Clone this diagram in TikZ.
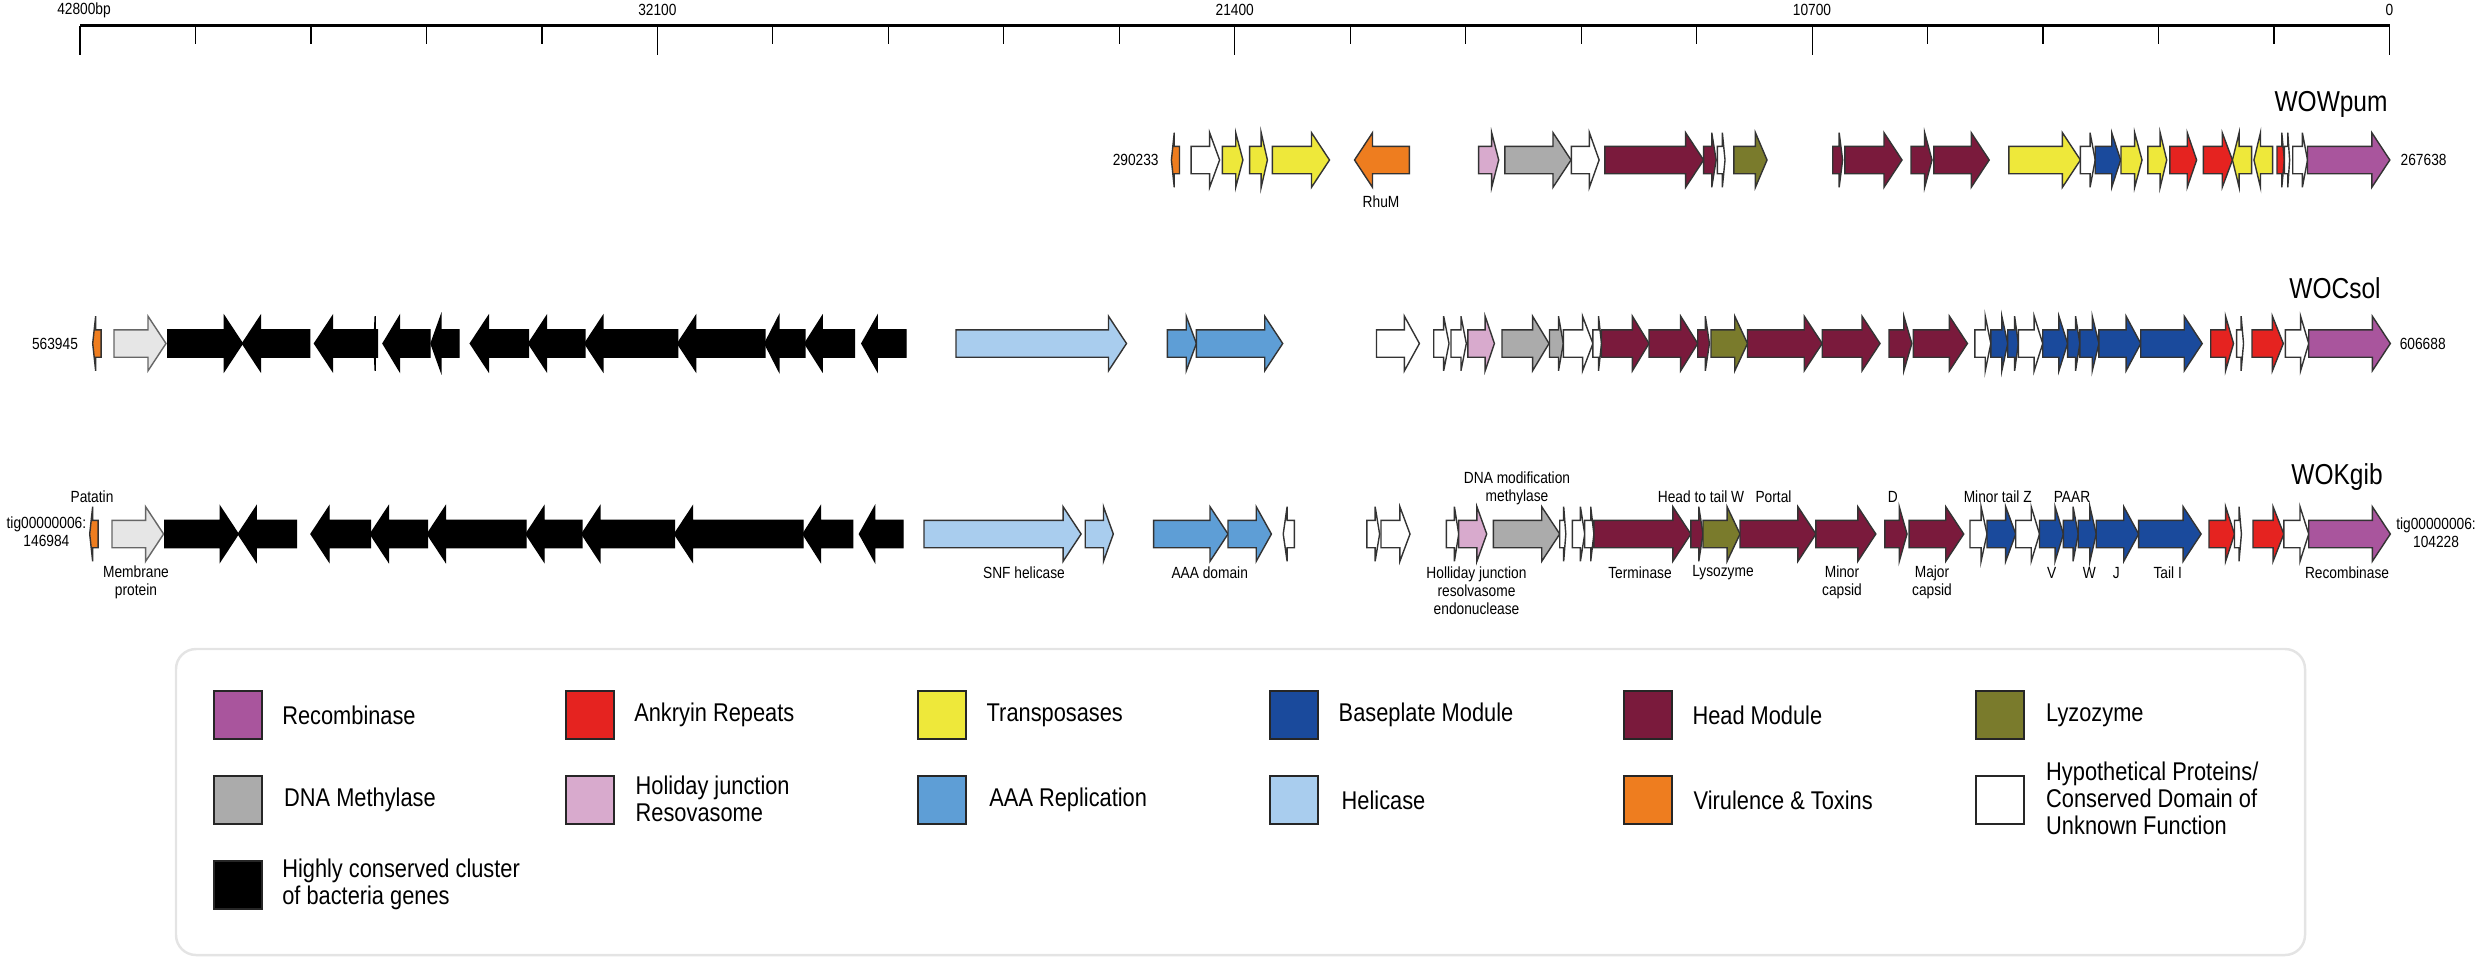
\documentclass[tikz,border=0pt]{standalone}
\usepackage{fontspec}
\setmainfont{Liberation Sans}[FakeStretch=0.85]
\definecolor{crec}{RGB}{169,85,157}
\definecolor{cank}{RGB}{229,35,32}
\definecolor{ctra}{RGB}{238,232,58}
\definecolor{cbas}{RGB}{26,74,156}
\definecolor{chea}{RGB}{122,26,60}
\definecolor{clys}{RGB}{122,123,44}
\definecolor{cmet}{RGB}{171,171,171}
\definecolor{chol}{RGB}{216,170,205}
\definecolor{caaa}{RGB}{94,158,214}
\definecolor{chel}{RGB}{169,205,238}
\definecolor{cvir}{RGB}{238,125,31}
\definecolor{cmem}{RGB}{230,230,230}
\definecolor{cbox}{RGB}{228,228,228}
\newcommand{\fsS}{\fontsize{4.6}{5.1}\selectfont}
\newcommand{\fsL}{\fontsize{7.3}{7.65}\selectfont}
\newcommand{\fsT}{\fontsize{8.2}{9}\selectfont}
\newcommand{\geneR}[4]{%
  \pgfmathsetmacro{\gh}{min(18,0.35*(#3-#2))}%
  \draw[gene,#4] (#2,#1-13.7) -- (#3-\gh,#1-13.7) -- (#3-\gh,#1-27.3) -- (#3,#1)
    -- (#3-\gh,#1+27.3) -- (#3-\gh,#1+13.7) -- (#2,#1+13.7) -- cycle;}
\newcommand{\geneL}[4]{%
  \pgfmathsetmacro{\gh}{min(18,0.35*(#3-#2))}%
  \draw[gene,#4] (#3,#1-13.7) -- (#2+\gh,#1-13.7) -- (#2+\gh,#1-27.3) -- (#2,#1)
    -- (#2+\gh,#1+27.3) -- (#2+\gh,#1+13.7) -- (#3,#1+13.7) -- cycle;}
\begin{document}
\begin{tikzpicture}[x=0.1mm,y=-0.1mm,
  gene/.style={draw=black!80,line width=0.4pt,line join=miter},
  grec/.style={fill=crec}, gank/.style={fill=cank}, gtra/.style={fill=ctra},
  gbas/.style={fill=cbas}, ghea/.style={fill=chea}, glys/.style={fill=clys},
  gmet/.style={fill=cmet}, ghol/.style={fill=chol}, gaaa/.style={fill=caaa},
  ghel/.style={fill=chel}, gvir/.style={fill=cvir}, ghyp/.style={fill=white},
  gblk/.style={fill=black,draw=black}, gmem/.style={fill=cmem,draw=black!60},
  lab/.style={inner sep=0pt,font=\fsS,align=center},
  rowname/.style={inner sep=0pt,font=\fsT},
  legtxt/.style={inner sep=0pt,font=\fsL,align=left,anchor=west},
  swatch/.style={draw=black!85,line width=0.6pt,minimum width=4.8mm,minimum height=4.83mm,inner sep=0pt}]
\useasboundingbox (0,0) rectangle (2481,963);
\def\ya{160}
\def\yb{343.5}
\def\yc{534}
% ruler
\draw[line width=0.7pt] (80,25.7) -- (2389.5,25.7);
\foreach \i in {0,...,20}{%
  \pgfmathsetmacro{\tx}{80+\i*115.475}%
  \pgfmathtruncatemacro{\mm}{mod(\i,5)}%
  \ifnum\mm=0 \draw[line width=0.35pt] (\tx,25.7) -- (\tx,55);
  \else \draw[line width=0.35pt] (\tx,25.7) -- (\tx,43.7); \fi}
\node[lab] (r0) at (84,10) {42800bp};
\node[lab] (r1) at (657.4,10) {32100};
\node[lab] (r2) at (1234.7,10) {21400};
\node[lab] (r3) at (1812,10) {10700};
\node[lab] (r4) at (2389.5,10) {0};
% row names and ends
\node[rowname] (n1) at (2331,104) {WOWpum};
\node[rowname] (n2) at (2335,288) {WOCsol};
\node[rowname] (n3) at (2337,477) {WOKgib};
\node[lab] (e1l) at (1135.7,\ya) {290233};
\node[lab] (e1r) at (2423.6,\ya) {267638};
\node[lab] (e2l) at (55,\yb) {563945};
\node[lab] (e2r) at (2422.7,\yb) {606688};
\node[lab] (e3l) at (46.4,532) {tig00000006:\\146984};
\node[lab] (e3r) at (2436,533) {tig00000006:\\104228};
% row 1 WOWpum
\geneL{\ya}{1171.4}{1179.5}{gvir}
\geneR{\ya}{1191.1}{1219.6}{ghyp}
\geneR{\ya}{1222.3}{1242.9}{gtra}
\geneR{\ya}{1249.6}{1267.4}{gtra}
\geneR{\ya}{1272.3}{1329.5}{gtra}
\geneL{\ya}{1354.5}{1409.4}{gvir}
\geneR{\ya}{1478.6}{1498.7}{ghol}
\geneR{\ya}{1504.9}{1571}{gmet}
\geneR{\ya}{1571.4}{1599.1}{ghyp}
\geneR{\ya}{1604.9}{1703.6}{ghea}
\geneR{\ya}{1703.6}{1716.1}{ghea}
\geneR{\ya}{1717.4}{1725}{ghyp}
\geneR{\ya}{1733.9}{1767}{glys}
\geneR{\ya}{1832.7}{1842.6}{ghea}
\geneR{\ya}{1844.8}{1902}{ghea}
\geneR{\ya}{1911}{1932}{ghea}
\geneR{\ya}{1933.8}{1989.2}{ghea}
\geneR{\ya}{2008.9}{2080.4}{gtra}
\geneR{\ya}{2080.4}{2095.2}{ghyp}
\geneR{\ya}{2095.2}{2120.6}{gbas}
\geneR{\ya}{2121}{2142}{gtra}
\geneR{\ya}{2147.9}{2166.7}{gtra}
\geneR{\ya}{2169.8}{2196.6}{gank}
\geneR{\ya}{2203.3}{2232.4}{gank}
\geneL{\ya}{2232.4}{2251.6}{gtra}
\geneL{\ya}{2253.9}{2272.6}{gtra}
\geneR{\ya}{2277}{2284.3}{gank}
\geneR{\ya}{2284.3}{2289.6}{ghyp}
\geneR{\ya}{2292.7}{2307.5}{ghyp}
\geneR{\ya}{2307.5}{2389.8}{grec}
\node[lab] (rhum) at (1381,201.7) {RhuM};
% row 2 WOCsol
\geneL{\yb}{92.7}{101.2}{gvir}
\geneR{\yb}{114}{166}{gmem}
\geneR{\yb}{167.9}{242.4}{gblk}
\geneL{\yb}{242.4}{309.7}{gblk}
\geneL{\yb}{314.5}{374}{gblk}
\geneL{\yb}{374}{377.5}{gblk}
\geneL{\yb}{383}{430}{gblk}
\geneL{\yb}{431}{459}{gblk}
\geneL{\yb}{470.3}{528.5}{gblk}
\geneL{\yb}{528.5}{584.8}{gblk}
\geneL{\yb}{584.8}{677.6}{gblk}
\geneL{\yb}{677.6}{764.8}{gblk}
\geneL{\yb}{764.8}{804.8}{gblk}
\geneL{\yb}{804.8}{854.5}{gblk}
\geneL{\yb}{861.8}{906}{gblk}
\geneR{\yb}{956}{1126.5}{ghel}
\geneR{\yb}{1167.3}{1196.4}{gaaa}
\geneR{\yb}{1196.4}{1282.7}{gaaa}
\geneR{\yb}{1376.5}{1419.4}{ghyp}
\geneR{\yb}{1433.7}{1449}{ghyp}
\geneR{\yb}{1451}{1466.3}{ghyp}
\geneR{\yb}{1467.9}{1494.4}{ghol}
\geneR{\yb}{1502}{1549}{gmet}
\geneR{\yb}{1549.5}{1563.3}{gmet}
\geneR{\yb}{1563.3}{1592.9}{ghyp}
\geneR{\yb}{1592.9}{1601.5}{ghyp}
\geneR{\yb}{1601.5}{1649}{ghea}
\geneR{\yb}{1649}{1697.7}{ghea}
\geneR{\yb}{1697.7}{1709.4}{ghea}
\geneR{\yb}{1711}{1747.5}{glys}
\geneR{\yb}{1747.5}{1822.2}{ghea}
\geneR{\yb}{1822.2}{1880}{ghea}
\geneR{\yb}{1889}{1911.8}{ghea}
\geneR{\yb}{1913.4}{1967.4}{ghea}
\geneR{\yb}{1974.9}{1990.8}{ghyp}
\geneR{\yb}{1990.8}{2007.7}{gbas}
\geneR{\yb}{2007.7}{2018.3}{gbas}
\geneR{\yb}{2018.3}{2042.7}{ghyp}
\geneR{\yb}{2042.7}{2067.6}{gbas}
\geneR{\yb}{2067.6}{2079.8}{gbas}
\geneR{\yb}{2079.8}{2098.9}{gbas}
\geneR{\yb}{2098.9}{2140.7}{gbas}
\geneR{\yb}{2140.7}{2202.2}{gbas}
\geneR{\yb}{2210.7}{2233.5}{gank}
\geneR{\yb}{2236.6}{2243.5}{ghyp}
\geneR{\yb}{2252}{2283.3}{gank}
\geneR{\yb}{2285.4}{2308.7}{ghyp}
\geneR{\yb}{2308.7}{2390.3}{grec}
% row 3 WOKgib
\geneL{\yc}{89.7}{98.2}{gvir}
\geneR{\yc}{112}{163.6}{gmem}
\geneR{\yc}{164.8}{238.2}{gblk}
\geneL{\yc}{238.2}{296.4}{gblk}
\geneL{\yc}{311}{370.3}{gblk}
\geneL{\yc}{370.3}{427.3}{gblk}
\geneL{\yc}{427.3}{526}{gblk}
\geneL{\yc}{526}{581.8}{gblk}
\geneL{\yc}{581.8}{674.5}{gblk}
\geneL{\yc}{674.5}{803}{gblk}
\geneL{\yc}{803}{852.7}{gblk}
\geneL{\yc}{859.4}{903}{gblk}
\geneR{\yc}{924}{1081.1}{ghel}
\geneR{\yc}{1085.2}{1113.3}{ghel}
\geneR{\yc}{1153.6}{1228}{gaaa}
\geneR{\yc}{1228}{1271.4}{gaaa}
\geneL{\yc}{1283.2}{1294.4}{ghyp}
\geneR{\yc}{1366.8}{1379.6}{ghyp}
\geneR{\yc}{1381}{1410}{ghyp}
\geneR{\yc}{1446.4}{1458.7}{ghyp}
\geneR{\yc}{1458.7}{1486.7}{ghol}
\geneR{\yc}{1493.4}{1559.7}{gmet}
\geneR{\yc}{1559.7}{1565.8}{ghyp}
\geneR{\yc}{1572.4}{1584.7}{ghyp}
\geneR{\yc}{1584.7}{1593.9}{ghyp}
\geneR{\yc}{1593.9}{1690.8}{ghea}
\geneR{\yc}{1690.8}{1703}{ghea}
\geneR{\yc}{1703}{1740}{glys}
\geneR{\yc}{1740}{1815.9}{ghea}
\geneR{\yc}{1815.9}{1875.8}{ghea}
\geneR{\yc}{1884.8}{1907}{ghea}
\geneR{\yc}{1909.1}{1963.7}{ghea}
\geneR{\yc}{1970}{1987}{ghyp}
\geneR{\yc}{1987}{2015.7}{gbas}
\geneR{\yc}{2015.7}{2039.5}{ghyp}
\geneR{\yc}{2039.5}{2063.4}{gbas}
\geneR{\yc}{2063.4}{2078.2}{gbas}
\geneR{\yc}{2078.2}{2096.2}{gbas}
\geneR{\yc}{2096.2}{2138.6}{gbas}
\geneR{\yc}{2138.6}{2201.1}{gbas}
\geneR{\yc}{2209}{2234.5}{gank}
\geneR{\yc}{2234.5}{2241.4}{ghyp}
\geneR{\yc}{2253}{2283.8}{gank}
\geneR{\yc}{2283.8}{2308.7}{ghyp}
\geneR{\yc}{2308.7}{2390.3}{grec}
% row 3 labels
\node[lab] (lpat) at (92,497) {Patatin};
\node[lab] (lmem) at (136,582.5) {Membrane\\protein};
\node[lab] (lsnf) at (1024,573) {SNF helicase};
\node[lab] (laaa) at (1209.7,573) {AAA domain};
\node[lab] (ldna) at (1517,488) {DNA modification\\methylase};
\node[lab] (lhol) at (1476.5,590.5) {Holliday junction\\resolvasome\\endonuclease};
\node[lab] (lter) at (1640,573) {Terminase};
\node[lab] (lhtt) at (1701,497) {Head to tail W};
\node[lab] (llys) at (1723,573) {Lysozyme};
\node[lab] (lpor) at (1773.5,497) {Portal};
\node[lab] (lmin) at (1842,582) {Minor\\capsid};
\node[lab] (ld) at (1892.7,497) {D};
\node[lab] (lmaj) at (1932,582) {Major\\capsid};
\node[lab] (lmtz) at (1997.7,497) {Minor tail Z};
\node[lab] (lpaar) at (2072,497) {PAAR};
\node[lab] (lv) at (2051.7,573) {V};
\node[lab] (lw) at (2089.3,573) {W};
\node[lab] (lj) at (2116.3,573) {J};
\node[lab] (ltail) at (2167.7,573) {Tail I};
\node[lab] (lrec) at (2347,573) {Recombinase};
% legend
\draw[draw=cbox,line width=0.7pt,rounded corners=2mm] (176,649) rectangle (2305,955);
\node[swatch,fill=crec] (s1) at (237.6,715) {};
\node[legtxt] (t1) at (281.6,715) {Recombinase};
\node[swatch,fill=cank] (s2) at (589.6,715) {};
\node[legtxt] (t2) at (633.6,715) {Ankryin Repeats};
\node[swatch,fill=ctra] (s3) at (942,715) {};
\node[legtxt] (t3) at (986,715) {Transposases};
\node[swatch,fill=cbas] (s4) at (1294,715) {};
\node[legtxt] (t4) at (1338,715) {Baseplate Module};
\node[swatch,fill=chea] (s5) at (1647.8,715) {};
\node[legtxt] (t5) at (1691.8,715) {Head Module};
\node[swatch,fill=clys] (s6) at (2000,715) {};
\node[legtxt] (t6) at (2045.5,715) {Lyzozyme};
\node[swatch,fill=cmet] (s7) at (237.6,800) {};
\node[legtxt] (t7) at (283.5,800) {DNA Methylase};
\node[swatch,fill=chol] (s8) at (589.6,800) {};
\node[legtxt] (t8) at (635,799) {Holiday junction\\Resovasome};
\node[swatch,fill=caaa] (s9) at (942,800) {};
\node[legtxt] (t9) at (988.7,800) {AAA Replication};
\node[swatch,fill=chel] (s10) at (1294,800) {};
\node[legtxt] (t10) at (1341,800) {Helicase};
\node[swatch,fill=cvir] (s11) at (1647.8,800) {};
\node[legtxt] (t11) at (1693,800) {Virulence \& Toxins};
\node[swatch,fill=white] (s12) at (2000,800) {};
\node[legtxt] (t12) at (2045.5,798) {Hypothetical Proteins/\\Conserved Domain of\\Unknown Function};
\node[swatch,fill=black] (s13) at (237.6,885) {};
\node[legtxt] (t13) at (281.6,884.5) {Highly conserved cluster\\of bacteria genes};
\end{tikzpicture}
\end{document}
